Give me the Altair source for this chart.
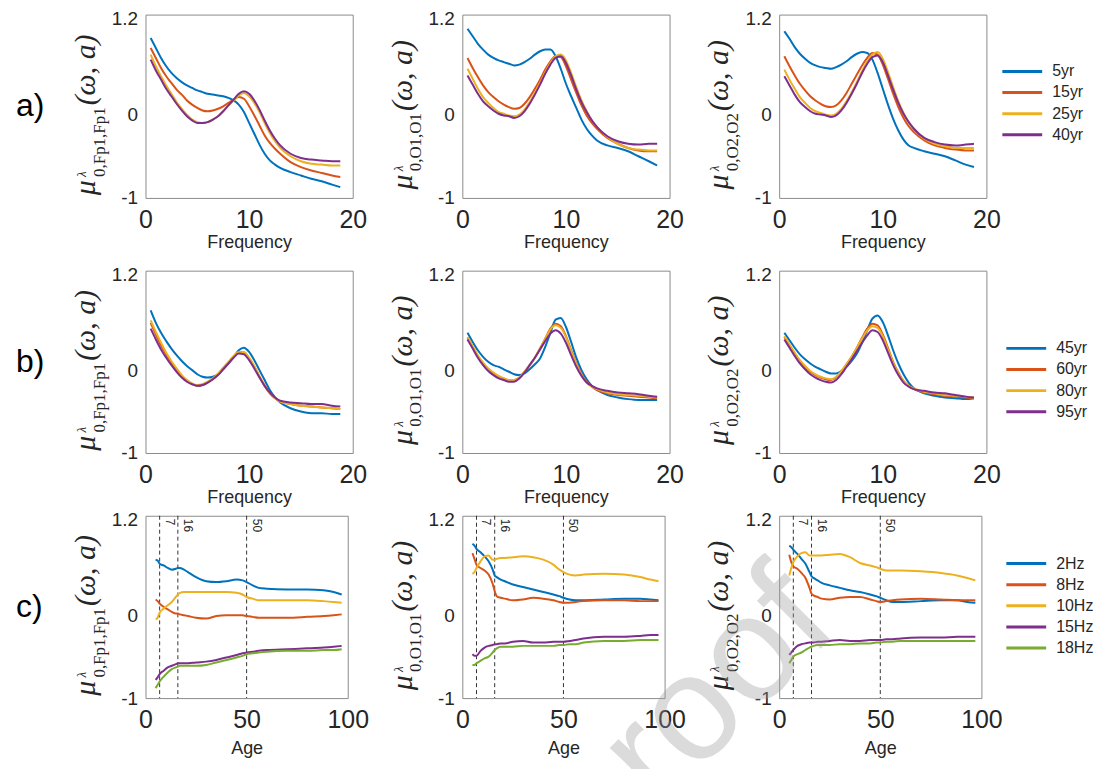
import altair as alt
import pandas as pd

# ---------------- data ----------------
FREQ = [0.5, 1, 1.5, 2, 2.5, 3, 3.5, 4, 4.5, 5, 5.5, 6, 6.5, 7, 7.5, 8, 8.5, 9, 9.5,
        10, 10.5, 11, 11.5, 12, 12.5, 13, 14, 15, 16, 17, 18, 18.8]
AGE = [5, 6, 7, 9, 11, 13, 15, 16, 17, 19, 21, 25, 30, 35, 40, 45, 48, 50, 53, 56,
       60, 70, 80, 88, 93, 97]
AGE_MARKS = [7, 16, 50]
AGE_MARK_LABELS = ["7", "16", "50"]

ROW_A_LABELS = ["5yr", "15yr", "25yr", "40yr"]
ROW_B_LABELS = ["45yr", "60yr", "80yr", "95yr"]
ROW_C_LABELS = ["2Hz", "8Hz", "10Hz", "15Hz", "18Hz"]
LINE_COLORS = ["#0072BD", "#D95319", "#EDB120", "#7E2F8E", "#77AC30"]
ROW_TAGS = ["a)", "b)", "c)"]
SUBSCRIPTS = ["0,Fp1,Fp1", "0,O1,O1", "0,O2,O2"]
WATERMARK = "proof"

# row a : Fp1
A_FP1_5 = [0.92, 0.80, 0.68, 0.58, 0.50, 0.44, 0.39, 0.35, 0.32, 0.29, 0.27, 0.25, 0.24, 0.23, 0.22, 0.20, 0.17, 0.12, 0.03, -0.10, -0.23, -0.36, -0.47, -0.55, -0.60, -0.64, -0.69, -0.73, -0.77, -0.80, -0.84, -0.87]
A_FP1_15 = [0.80, 0.68, 0.56, 0.46, 0.38, 0.30, 0.24, 0.17, 0.12, 0.08, 0.05, 0.04, 0.05, 0.07, 0.10, 0.14, 0.18, 0.21, 0.19, 0.10, -0.01, -0.13, -0.25, -0.34, -0.41, -0.47, -0.57, -0.63, -0.67, -0.70, -0.73, -0.75]
A_FP1_25 = [0.72, 0.58, 0.46, 0.35, 0.25, 0.15, 0.07, 0.00, -0.06, -0.09, -0.10, -0.09, -0.06, -0.02, 0.04, 0.11, 0.17, 0.23, 0.26, 0.22, 0.14, 0.03, -0.10, -0.22, -0.32, -0.40, -0.50, -0.56, -0.59, -0.60, -0.61, -0.61]
A_FP1_40 = [0.66, 0.53, 0.42, 0.31, 0.22, 0.13, 0.05, -0.02, -0.07, -0.10, -0.10, -0.09, -0.06, -0.02, 0.04, 0.11, 0.18, 0.25, 0.28, 0.25, 0.17, 0.06, -0.07, -0.19, -0.29, -0.37, -0.47, -0.52, -0.54, -0.55, -0.56, -0.56]
# row a : O1
A_O1_5 = [1.03, 0.94, 0.85, 0.78, 0.72, 0.68, 0.65, 0.63, 0.61, 0.59, 0.60, 0.63, 0.67, 0.72, 0.76, 0.78, 0.78, 0.70, 0.55, 0.37, 0.22, 0.08, -0.06, -0.17, -0.25, -0.31, -0.37, -0.40, -0.44, -0.50, -0.56, -0.61]
A_O1_15 = [0.68, 0.56, 0.45, 0.35, 0.27, 0.21, 0.16, 0.12, 0.09, 0.07, 0.08, 0.13, 0.21, 0.31, 0.42, 0.54, 0.64, 0.70, 0.69, 0.58, 0.42, 0.26, 0.11, -0.01, -0.10, -0.17, -0.28, -0.35, -0.40, -0.43, -0.44, -0.44]
A_O1_25 = [0.55, 0.43, 0.31, 0.21, 0.14, 0.08, 0.03, 0.01, -0.01, -0.02, 0.00, 0.06, 0.15, 0.26, 0.38, 0.51, 0.62, 0.70, 0.72, 0.65, 0.50, 0.33, 0.17, 0.04, -0.07, -0.15, -0.27, -0.35, -0.40, -0.42, -0.43, -0.43]
A_O1_40 = [0.47, 0.36, 0.25, 0.16, 0.10, 0.05, 0.01, -0.01, -0.02, -0.04, -0.02, 0.04, 0.13, 0.24, 0.36, 0.49, 0.60, 0.68, 0.70, 0.62, 0.47, 0.30, 0.15, 0.03, -0.07, -0.15, -0.26, -0.32, -0.35, -0.36, -0.35, -0.35]
# row a : O2
A_O2_5 = [1.00, 0.91, 0.81, 0.73, 0.67, 0.62, 0.59, 0.57, 0.56, 0.55, 0.57, 0.60, 0.64, 0.69, 0.73, 0.75, 0.74, 0.66, 0.50, 0.31, 0.12, -0.05, -0.19, -0.30, -0.37, -0.40, -0.44, -0.47, -0.50, -0.55, -0.60, -0.63]
A_O2_15 = [0.70, 0.58, 0.47, 0.37, 0.29, 0.22, 0.17, 0.13, 0.10, 0.09, 0.11, 0.17, 0.26, 0.37, 0.48, 0.59, 0.68, 0.74, 0.72, 0.60, 0.43, 0.25, 0.09, -0.04, -0.14, -0.21, -0.31, -0.37, -0.40, -0.42, -0.43, -0.43]
A_O2_25 = [0.54, 0.42, 0.31, 0.21, 0.14, 0.08, 0.04, 0.02, 0.00, -0.01, 0.01, 0.07, 0.16, 0.27, 0.39, 0.52, 0.64, 0.72, 0.75, 0.67, 0.51, 0.33, 0.16, 0.02, -0.09, -0.17, -0.29, -0.35, -0.38, -0.40, -0.40, -0.40]
A_O2_40 = [0.46, 0.35, 0.24, 0.15, 0.09, 0.04, 0.01, 0.00, -0.01, -0.03, -0.01, 0.05, 0.14, 0.25, 0.37, 0.50, 0.61, 0.69, 0.71, 0.63, 0.47, 0.30, 0.14, 0.01, -0.09, -0.17, -0.28, -0.33, -0.36, -0.37, -0.36, -0.35]
# row b : Fp1
B_FP1_45 = [0.72, 0.57, 0.45, 0.35, 0.26, 0.18, 0.11, 0.05, 0.00, -0.05, -0.08, -0.09, -0.08, -0.05, 0.01, 0.08, 0.16, 0.24, 0.27, 0.22, 0.12, 0.00, -0.12, -0.24, -0.33, -0.39, -0.46, -0.50, -0.52, -0.52, -0.53, -0.53]
B_FP1_60 = [0.57, 0.43, 0.30, 0.19, 0.09, 0.00, -0.07, -0.13, -0.17, -0.19, -0.18, -0.15, -0.11, -0.05, 0.02, 0.09, 0.16, 0.21, 0.21, 0.14, 0.04, -0.08, -0.19, -0.28, -0.34, -0.38, -0.41, -0.43, -0.44, -0.45, -0.46, -0.47]
B_FP1_80 = [0.60, 0.46, 0.33, 0.21, 0.11, 0.02, -0.06, -0.12, -0.16, -0.18, -0.17, -0.14, -0.10, -0.04, 0.03, 0.10, 0.17, 0.22, 0.22, 0.15, 0.05, -0.07, -0.18, -0.28, -0.34, -0.38, -0.41, -0.43, -0.44, -0.45, -0.46, -0.47]
B_FP1_95 = [0.50, 0.37, 0.25, 0.15, 0.06, -0.02, -0.09, -0.14, -0.17, -0.19, -0.18, -0.15, -0.11, -0.06, 0.01, 0.08, 0.15, 0.20, 0.19, 0.12, 0.02, -0.09, -0.19, -0.27, -0.33, -0.37, -0.39, -0.40, -0.41, -0.41, -0.43, -0.44]
# row b : O1
B_O1_45 = [0.45, 0.34, 0.24, 0.16, 0.10, 0.06, 0.04, 0.01, -0.02, -0.05, -0.06, -0.04, 0.01, 0.07, 0.14, 0.28, 0.45, 0.61, 0.63, 0.52, 0.34, 0.15, 0.00, -0.11, -0.19, -0.24, -0.30, -0.33, -0.35, -0.36, -0.36, -0.36]
B_O1_60 = [0.39, 0.28, 0.17, 0.08, 0.01, -0.04, -0.08, -0.10, -0.12, -0.12, -0.09, -0.02, 0.06, 0.15, 0.26, 0.38, 0.50, 0.56, 0.53, 0.41, 0.24, 0.08, -0.05, -0.14, -0.20, -0.24, -0.28, -0.30, -0.31, -0.32, -0.33, -0.34]
B_O1_80 = [0.40, 0.29, 0.18, 0.09, 0.02, -0.03, -0.07, -0.10, -0.12, -0.12, -0.09, -0.02, 0.06, 0.15, 0.26, 0.38, 0.49, 0.54, 0.51, 0.40, 0.23, 0.07, -0.06, -0.15, -0.20, -0.23, -0.27, -0.29, -0.30, -0.31, -0.32, -0.33]
B_O1_95 = [0.37, 0.26, 0.15, 0.06, -0.01, -0.06, -0.10, -0.12, -0.14, -0.14, -0.10, -0.03, 0.06, 0.15, 0.25, 0.35, 0.44, 0.48, 0.44, 0.33, 0.18, 0.04, -0.07, -0.15, -0.19, -0.22, -0.25, -0.27, -0.28, -0.29, -0.31, -0.32]
# row b : O2
B_O2_45 = [0.45, 0.36, 0.27, 0.19, 0.13, 0.08, 0.04, 0.01, -0.02, -0.04, -0.04, -0.01, 0.04, 0.11, 0.20, 0.33, 0.48, 0.62, 0.66, 0.58, 0.42, 0.24, 0.08, -0.05, -0.15, -0.22, -0.28, -0.31, -0.33, -0.34, -0.35, -0.34]
B_O2_60 = [0.40, 0.30, 0.20, 0.11, 0.04, -0.02, -0.06, -0.09, -0.11, -0.12, -0.09, -0.02, 0.07, 0.16, 0.27, 0.39, 0.50, 0.56, 0.54, 0.43, 0.27, 0.10, -0.03, -0.13, -0.19, -0.23, -0.27, -0.29, -0.31, -0.32, -0.33, -0.34]
B_O2_80 = [0.41, 0.31, 0.21, 0.12, 0.05, -0.01, -0.05, -0.08, -0.10, -0.11, -0.08, -0.01, 0.07, 0.16, 0.27, 0.38, 0.48, 0.53, 0.51, 0.41, 0.25, 0.09, -0.04, -0.13, -0.19, -0.22, -0.26, -0.28, -0.30, -0.31, -0.32, -0.33]
B_O2_95 = [0.37, 0.27, 0.17, 0.08, 0.01, -0.05, -0.09, -0.12, -0.14, -0.15, -0.12, -0.05, 0.04, 0.13, 0.23, 0.33, 0.42, 0.48, 0.46, 0.36, 0.21, 0.06, -0.06, -0.15, -0.20, -0.23, -0.25, -0.27, -0.28, -0.30, -0.32, -0.33]
# row c : Fp1
C_FP1_2 = [0.67, 0.66, 0.62, 0.60, 0.57, 0.55, 0.56, 0.57, 0.57, 0.55, 0.52, 0.46, 0.41, 0.40, 0.41, 0.43, 0.42, 0.40, 0.36, 0.33, 0.32, 0.31, 0.31, 0.30, 0.28, 0.25]
C_FP1_8 = [0.19, 0.17, 0.14, 0.10, 0.07, 0.04, 0.02, 0.02, 0.01, 0.00, -0.01, -0.03, -0.04, -0.01, 0.00, 0.00, 0.00, -0.01, -0.02, -0.03, -0.03, -0.03, -0.02, -0.01, 0.00, 0.01]
C_FP1_10 = [-0.05, -0.03, 0.03, 0.08, 0.12, 0.16, 0.22, 0.25, 0.27, 0.28, 0.28, 0.28, 0.28, 0.28, 0.28, 0.27, 0.25, 0.22, 0.20, 0.18, 0.18, 0.18, 0.18, 0.17, 0.16, 0.15]
C_FP1_15 = [-0.78, -0.75, -0.71, -0.67, -0.63, -0.61, -0.59, -0.58, -0.58, -0.58, -0.58, -0.57, -0.56, -0.54, -0.51, -0.48, -0.46, -0.45, -0.44, -0.43, -0.42, -0.41, -0.40, -0.39, -0.38, -0.37]
C_FP1_18 = [-0.88, -0.84, -0.80, -0.74, -0.69, -0.65, -0.63, -0.62, -0.61, -0.61, -0.61, -0.61, -0.60, -0.57, -0.54, -0.51, -0.49, -0.47, -0.46, -0.45, -0.44, -0.43, -0.43, -0.42, -0.42, -0.41]
# row c : O1
C_O1_2 = [0.86, 0.84, 0.80, 0.76, 0.71, 0.65, 0.55, 0.48, 0.46, 0.43, 0.41, 0.37, 0.34, 0.31, 0.28, 0.25, 0.23, 0.21, 0.19, 0.18, 0.18, 0.19, 0.20, 0.20, 0.19, 0.18]
C_O1_8 = [0.75, 0.68, 0.61, 0.57, 0.54, 0.49, 0.38, 0.29, 0.23, 0.21, 0.20, 0.18, 0.19, 0.21, 0.20, 0.18, 0.16, 0.15, 0.15, 0.16, 0.17, 0.18, 0.18, 0.17, 0.17, 0.17]
C_O1_10 = [0.50, 0.52, 0.57, 0.65, 0.71, 0.72, 0.67, 0.67, 0.68, 0.69, 0.69, 0.70, 0.71, 0.70, 0.67, 0.61, 0.55, 0.52, 0.49, 0.48, 0.49, 0.50, 0.49, 0.46, 0.43, 0.41]
C_O1_15 = [-0.47, -0.49, -0.49, -0.43, -0.39, -0.37, -0.36, -0.35, -0.35, -0.34, -0.34, -0.32, -0.31, -0.33, -0.33, -0.32, -0.32, -0.32, -0.31, -0.30, -0.28, -0.26, -0.26, -0.25, -0.24, -0.24]
C_O1_18 = [-0.60, -0.60, -0.58, -0.55, -0.52, -0.50, -0.45, -0.42, -0.40, -0.38, -0.38, -0.38, -0.37, -0.37, -0.37, -0.37, -0.36, -0.36, -0.35, -0.35, -0.33, -0.31, -0.31, -0.30, -0.30, -0.30]
# row c : O2
C_O2_2 = [0.84, 0.82, 0.79, 0.74, 0.68, 0.62, 0.52, 0.47, 0.45, 0.42, 0.39, 0.36, 0.33, 0.30, 0.28, 0.25, 0.23, 0.21, 0.18, 0.16, 0.16, 0.17, 0.18, 0.18, 0.16, 0.15]
C_O2_8 = [0.73, 0.64, 0.59, 0.56, 0.51, 0.45, 0.33, 0.26, 0.24, 0.22, 0.20, 0.19, 0.21, 0.22, 0.22, 0.19, 0.17, 0.16, 0.17, 0.18, 0.19, 0.20, 0.19, 0.18, 0.18, 0.18]
C_O2_10 = [0.48, 0.57, 0.64, 0.71, 0.75, 0.76, 0.72, 0.72, 0.72, 0.72, 0.72, 0.73, 0.74, 0.70, 0.63, 0.60, 0.58, 0.56, 0.54, 0.54, 0.54, 0.53, 0.51, 0.48, 0.45, 0.42]
C_O2_15 = [-0.48, -0.45, -0.42, -0.37, -0.35, -0.34, -0.33, -0.33, -0.33, -0.32, -0.32, -0.31, -0.30, -0.31, -0.31, -0.30, -0.30, -0.30, -0.29, -0.29, -0.28, -0.27, -0.27, -0.26, -0.26, -0.26]
C_O2_18 = [-0.58, -0.54, -0.50, -0.47, -0.45, -0.42, -0.39, -0.38, -0.37, -0.36, -0.36, -0.36, -0.35, -0.35, -0.34, -0.34, -0.33, -0.33, -0.32, -0.32, -0.31, -0.31, -0.31, -0.31, -0.31, -0.31]

# ---------------- style ----------------
SANS = "Liberation Sans"
SERIF = "Liberation Serif"
TXT = "#262626"
SERIF_EM = {"0": 0.5, "1": 0.5, ",": 0.25, "F": 0.556, "p": 0.5, "O": 0.722}
MU_FS, LAM_FS, SUB_FS, ARG_FS = 30, 13, 17, 30


def tiny(text):
    return alt.Chart(pd.DataFrame({"t": [text]}))


def rot_text(text, fs, x, y, italic=True, align="left"):
    kw = dict(angle=270, align=align, baseline="alphabetic", font=SERIF, fontSize=fs, color=TXT)
    if italic:
        kw["fontStyle"] = "italic"
    return tiny(text).mark_text(**kw).encode(text="t:N", x=alt.value(x), y=alt.value(y))


def y_title_layers(sub, h):
    mu_w = 0.576 * MU_FS
    sub_w = sum(SERIF_EM.get(c, 0.5) for c in sub) * SUB_FS
    arg_w = 2.33 * ARG_FS
    total = mu_w + sub_w + 3 + arg_w
    start = h * 0.55 + total / 2
    return [
        rot_text("μ", MU_FS, -51, start),
        rot_text("λ", LAM_FS, -60, start - mu_w - 1),
        rot_text(sub, SUB_FS, -41, start - mu_w - 1, italic=False),
        rot_text("(ω, a)", ARG_FS, -51, start - mu_w - sub_w - 3),
    ]


def panel(xs, series, labels, sub, xdom, xvals, xtitle, w, h, title_pad,
          legend_pos=None, tag=None, marks=False, watermark=False):
    recs = []
    for lab, vals in zip(labels, series):
        for xv, yv in zip(xs, vals):
            recs.append({"x": xv, "v": yv, "s": lab})
    df = pd.DataFrame(recs)
    if legend_pos is not None:
        leg = alt.Legend(orient="none", legendX=legend_pos[0], legendY=legend_pos[1], title=None,
                         symbolType="M-4,0H4", symbolSize=100, symbolStrokeWidth=3,
                         labelFont=SANS, labelFontSize=16, labelColor=TXT, labelOffset=22,
                         rowPadding=5.2, padding=0)
    else:
        leg = None
    xscale = alt.Scale(domain=xdom, nice=False, zero=False)
    lines = alt.Chart(df).mark_line(strokeWidth=2, interpolate="monotone").encode(
        x=alt.X("x:Q", scale=xscale,
                axis=alt.Axis(values=xvals, title=xtitle, titlePadding=title_pad,
                              labelFlush=False)),
        y=alt.Y("v:Q", scale=alt.Scale(domain=[-1, 1.2], nice=False, zero=False),
                axis=alt.Axis(values=[-1, 0, 1.2], title=None,
                              labelOffset={"condition": {"test": "datum.value > 1", "value": 4},
                                           "value": 0},
                              labelExpr="datum.value > 1 ? '1.2' : (datum.value < -0.5 ? '-1' : '0')")),
        color=alt.Color("s:N", scale=alt.Scale(domain=labels, range=LINE_COLORS[:len(labels)]),
                        legend=leg),
    )
    layers = []
    if marks:
        mdf = pd.DataFrame({"x": AGE_MARKS, "t": AGE_MARK_LABELS})
        rules = alt.Chart(mdf).mark_rule(color="#333333", strokeWidth=1, strokeDash=[4, 3]).encode(
            x=alt.X("x:Q", scale=xscale))
        mtxt = alt.Chart(mdf).mark_text(angle=90, align="left", baseline="bottom", dy=-3,
                                        font=SANS, fontSize=12, color=TXT).encode(
            x=alt.X("x:Q", scale=xscale), y=alt.value(3), text="t:N")
        layers += [rules, mtxt]
    layers.append(lines)
    layers += y_title_layers(sub, h)
    if tag is not None:
        layers.append(tiny(tag).mark_text(align="left", baseline="middle", font=SANS, fontSize=32,
                                          color="#000000").encode(
            text="t:N", x=alt.value(-130), y=alt.value(h / 2)))
    if watermark:
        layers.append(tiny(WATERMARK).mark_text(angle=315, align="left", baseline="alphabetic",
                                                font=SANS, fontSize=150, color="#9a9a9a",
                                                opacity=0.35).encode(
            text="t:N", x=alt.value(-180), y=alt.value(355)))
    return alt.layer(*layers).properties(width=w, height=h)


def row(xs, panels_series, labels, xdom, xvals, xtitle, w, h, title_pad, spacing, legend_pos,
        tag, marks=False):
    charts = []
    for i, (series, sub) in enumerate(zip(panels_series, SUBSCRIPTS)):
        charts.append(panel(xs, series, labels, sub, xdom, xvals, xtitle, w, h, title_pad,
                            legend_pos=legend_pos if i == 2 else None,
                            tag=tag if i == 0 else None, marks=marks,
                            watermark=(marks and i == 2)))
    return alt.hconcat(*charts, spacing=spacing, bounds="flush").resolve_scale(color="independent")


row_a = row(FREQ, [[A_FP1_5, A_FP1_15, A_FP1_25, A_FP1_40],
                   [A_O1_5, A_O1_15, A_O1_25, A_O1_40],
                   [A_O2_5, A_O2_15, A_O2_25, A_O2_40]],
            ROW_A_LABELS, [0, 20], [0, 10, 20], "Frequency", 208, 184, 1, 110, (236, 49),
            ROW_TAGS[0])
row_b = row(FREQ, [[B_FP1_45, B_FP1_60, B_FP1_80, B_FP1_95],
                   [B_O1_45, B_O1_60, B_O1_80, B_O1_95],
                   [B_O2_45, B_O2_60, B_O2_80, B_O2_95]],
            ROW_B_LABELS, [0, 20], [0, 10, 20], "Frequency", 208, 183, 1, 110, (240, 70),
            ROW_TAGS[1])
row_c = row(AGE, [[C_FP1_2, C_FP1_8, C_FP1_10, C_FP1_15, C_FP1_18],
                  [C_O1_2, C_O1_8, C_O1_10, C_O1_15, C_O1_18],
                  [C_O2_2, C_O2_8, C_O2_10, C_O2_15, C_O2_18]],
            ROW_C_LABELS, [0, 100], [0, 50, 100], "Age", 203, 183, 7, 115, (240, 40),
            ROW_TAGS[2], marks=True)

top = alt.vconcat(row_a, row_b, spacing=12).resolve_scale(color="independent")
chart = alt.vconcat(top, row_c, spacing=2).resolve_scale(
    color="independent"
).properties(
    padding={"left": 7, "top": -1, "right": 0, "bottom": 0}
).configure_view(
    stroke="#8c8c8c", strokeWidth=1
).configure_axis(
    grid=False, domain=False, ticks=False, tickSize=0,
    labelFont=SANS, labelColor=TXT, titleFont=SANS, titleColor=TXT,
    titleFontSize=18, titleFontWeight="normal"
).configure_axisX(
    labelFontSize=25, labelPadding=10
).configure_axisY(
    labelFontSize=19, labelPadding=8
)

chart.save("out.html", embed_options={"renderer": "svg", "actions": False})
